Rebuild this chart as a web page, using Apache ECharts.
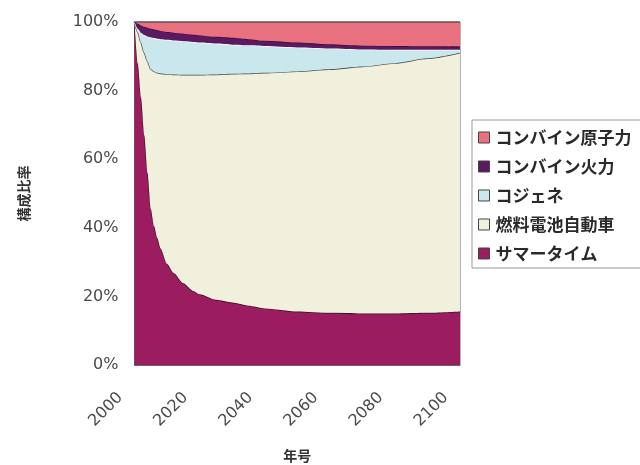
<!DOCTYPE html>
<html>
<head>
<meta charset="utf-8">
<script src="https://cdn.jsdelivr.net/npm/echarts@6/dist/echarts.min.js"></script>
<style>
  html, body { margin: 0; padding: 0; background: #ffffff; }
  #chart { width: 640px; height: 465px; }
</style>
</head>
<body>
<div id="chart"></div>
<script>
// Share of each measure (%) by year, stacked to 100%
const years = [2000, 2001, 2002, 2003, 2004, 2005, 2006, 2007, 2008, 2010, 2012, 2015,
               2018, 2020, 2025, 2030, 2035, 2040, 2050, 2060, 2070, 2080, 2090, 2100];

const summerTime = [100, 88, 78, 67, 56, 45.5, 40.5, 37, 34, 29.5, 26.8, 23.8,
                    21.6, 20.6, 19.0, 18.2, 17.3, 16.5, 15.6, 15.2, 15.0, 15.0, 15.2, 15.6];
const fuelCellCar = [0, 9, 16, 24, 32.5, 40.8, 45.1, 48.2, 51.0, 55.3, 57.9, 60.8,
                     63.0, 64.0, 65.7, 66.7, 67.7, 68.7, 70.0, 71.0, 72.0, 73.0, 74.2, 75.4];
const cogeneration = [0, 1, 2.8, 5.2, 7.3, 9.2, 9.7, 9.9, 10.0, 10.0, 9.9, 9.8,
                      9.6, 9.4, 9.0, 8.5, 8.2, 7.8, 7.0, 6.1, 5.0, 3.9, 2.5, 0.9];
const combinedThermal = [0, 1.5, 2.2, 2.4, 2.5, 2.5, 2.5, 2.5, 2.4, 2.3, 2.3, 2.2,
                         2.1, 2.1, 2.0, 2.0, 1.8, 1.5, 1.4, 1.2, 1.1, 1.1, 1.0, 0.9];
const combinedNuclear = [0, 0.5, 1, 1.4, 1.7, 2.0, 2.2, 2.4, 2.6, 2.9, 3.1, 3.4,
                         3.7, 3.9, 4.3, 4.6, 5.0, 5.5, 6.0, 6.5, 6.9, 7.0, 7.1, 7.2];

const seriesNames = ['サマータイム', '燃料電池自動車', 'コジェネ', 'コンバイン火力', 'コンバイン原子力'];
const legendOrder = ['コンバイン原子力', 'コンバイン火力', 'コジェネ', '燃料電池自動車', 'サマータイム'];
const xTickLabels = ['2000', '2020', '2040', '2060', '2080', '2100'];
const yTickLabels = ['0%', '20%', '40%', '60%', '80%', '100%'];
const xAxisTitle = '年号';
const yAxisTitle = '構成比率';

// One category per calendar year so the sampled years land at their true positions
const firstYear = Number(xTickLabels[0]);
const lastYear = Number(xTickLabels[xTickLabels.length - 1]);
const yearCategories = [];
for (let y = firstYear; y <= lastYear; y++) yearCategories.push(String(y));

const fills = ['#9b1c5f', '#f0f0dc', '#c9e7ec', '#5b1a60', '#e8707f'];
const edges = ['#3a1026', '#4a4a4a', '#ffffff', '#3b0f42', '#555555'];
const values = [summerTime, fuelCellCar, cogeneration, combinedThermal, combinedNuclear];

const chart = echarts.init(document.getElementById('chart'), null, { renderer: 'canvas' });

const series = values.map((vals, k) => ({
  name: seriesNames[k],
  type: 'line',
  stack: 'share',
  data: years.map((y, i) => [String(y), vals[i]]),
  symbol: 'none',
  smooth: 0.25,
  smoothMonotone: 'x',
  color: fills[k],
  lineStyle: { color: edges[k], width: 1.4 },
  areaStyle: { color: fills[k], opacity: 1 },
  z: 2 + k
}));

chart.setOption({
  animation: false,
  backgroundColor: '#ffffff',
  textStyle: { fontFamily: '"Noto Sans CJK JP", "DejaVu Sans", sans-serif' },
  grid: {
    left: 134.5, right: 180, top: 22, bottom: 100,
    outerBoundsMode: 'none',
    containLabel: false,
    show: true, borderColor: '#666666', borderWidth: 1, backgroundColor: 'transparent'
  },
  legend: {
    data: legendOrder,
    orient: 'vertical',
    left: 472, top: 120,
    padding: [9, 40, 6, 6],
    itemGap: 12,
    itemWidth: 11, itemHeight: 11,
    icon: 'rect',
    borderColor: '#9a9a9a', borderWidth: 1,
    itemStyle: { borderColor: '#444444', borderWidth: 1 },
    textStyle: {
      fontFamily: '"Noto Sans CJK JP", sans-serif',
      fontSize: 17, fontWeight: 'bold', color: '#2a2a2a', padding: [0, 0, 0, 1]
    }
  },
  xAxis: {
    type: 'category',
    data: yearCategories,
    boundaryGap: false,
    name: xAxisTitle,
    nameLocation: 'middle',
    nameGap: 84,
    nameTextStyle: { fontFamily: '"Noto Sans CJK JP", sans-serif', fontSize: 14, fontWeight: 'bold', color: '#333333' },
    axisLine: { show: true, lineStyle: { color: '#666666' } },
    axisTick: { show: false },
    splitLine: { show: false },
    axisLabel: {
      interval: 19,
      rotate: 45,
      margin: 16,
      padding: [0, 20, 0, 0],
      fontFamily: '"DejaVu Sans", sans-serif',
      fontSize: 16,
      color: '#4a4a4a',
      formatter: v => (xTickLabels.indexOf(v) >= 0 ? v : '')
    }
  },
  yAxis: {
    type: 'value',
    min: 0, max: 100, interval: 20,
    name: yAxisTitle,
    nameLocation: 'middle',
    nameRotate: 90,
    nameGap: 104,
    nameTextStyle: { fontFamily: '"Noto Sans CJK JP", sans-serif', fontSize: 14, fontWeight: 'bold', color: '#333333' },
    axisLine: { show: true, lineStyle: { color: '#666666' } },
    axisTick: { show: false },
    splitLine: { show: false },
    axisLabel: {
      margin: 16,
      fontFamily: '"DejaVu Sans", sans-serif',
      fontSize: 16,
      color: '#4a4a4a',
      formatter: v => yTickLabels[Math.round(v / 20)]
    }
  },
  series: series
});
</script>
</body>
</html>
